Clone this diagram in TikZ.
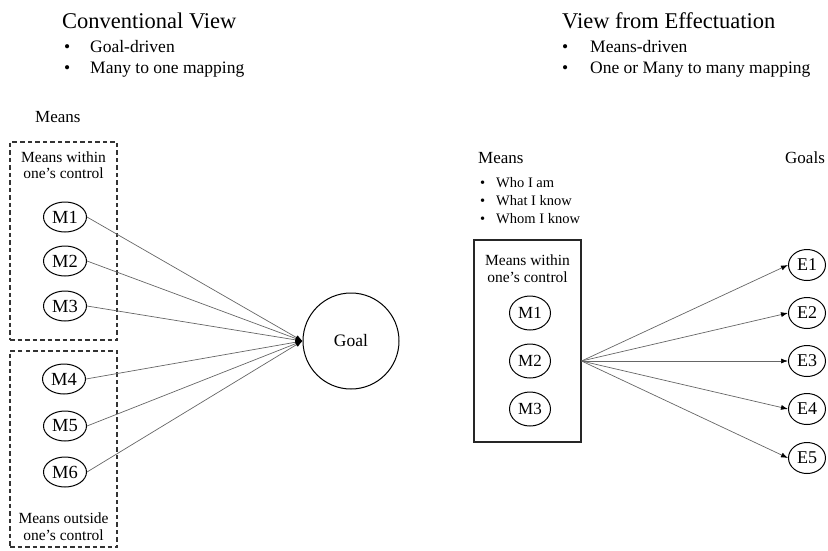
\documentclass[tikz,border=0pt]{standalone}
\usepackage{fontspec}
\setmainfont{Liberation Serif}[Ligatures=TeX]
\usetikzlibrary{shapes.geometric,arrows.meta,calc}

\newcommand{\fs}[1]{\fontsize{#1}{#1}\selectfont\rmfamily}

\begin{document}
\begin{tikzpicture}[x=1pt,y=-1pt,
  title/.style={anchor=base west,inner sep=0pt,font=\fs{22.5}},
  bulleted/.style={anchor=base west,inner sep=0pt,font=\fs{17.5}},
  heading/.style={anchor=base west,inner sep=0pt,font=\fs{17}},
  small/.style={anchor=base west,inner sep=0pt,font=\fs{14.5}},
  boxlabel/.style={anchor=base,inner sep=0pt,font=\fs{15.5}},
  dashbox/.style={draw=black!80,line width=1.2pt,dash pattern=on 4.5pt off 3pt},
  solidbox/.style={draw=black!85,line width=1.1pt},
  meanL/.style={draw,ellipse,line width=1pt,minimum width=43pt,minimum height=30pt,inner sep=0pt,font=\fs{18.5}},
  meanR/.style={draw,ellipse,line width=1pt,minimum width=41pt,minimum height=34pt,inner sep=0pt,font=\fs{17}},
  effect/.style={draw,ellipse,line width=1pt,minimum width=37pt,minimum height=31pt,inner sep=0pt,font=\fs{18}},
  goalnode/.style={draw,circle,line width=1pt,minimum size=96pt,inner sep=0pt,font=\fs{17.5}},
  link/.style={draw=black!60,line width=0.7pt,-{Latex[length=7pt,width=5pt,color=black]}}
]
\useasboundingbox (0,0) rectangle (828,550);

% ---------- Conventional view ----------
\node[title] (ctitle) at (62,28) {Conventional View};
\node[bulleted] (cb1) at (64,52) {\textbullet};
\node[bulleted] (ct1) at (90,52) {Goal-driven};
\node[bulleted] (cb2) at (64,73) {\textbullet};
\node[bulleted] (ct2) at (90,73) {Many to one mapping};
\node[heading] (cmeans) at (35,122) {Means};

\node[dashbox,minimum width=107pt,minimum height=198pt,inner sep=0pt] (inbox) at (63.5,241) {};
\node[dashbox,minimum width=107pt,minimum height=196pt,inner sep=0pt] (outbox) at (63.5,449) {};
\node[boxlabel] (inl1) at (63.5,162) {Means within};
\node[boxlabel] (inl2) at (63.5,178) {one’s control};
\node[boxlabel] (outl1) at (63.5,523) {Means outside};
\node[boxlabel] (outl2) at (63.5,540) {one’s control};

\node[meanL] (m1) at (65,217) {M1};
\node[meanL] (m2) at (65,261) {M2};
\node[meanL] (m3) at (65,306) {M3};
\node[meanL] (m4) at (64,379) {M4};
\node[meanL] (m5) at (65,426) {M5};
\node[meanL] (m6) at (65,472) {M6};

\node[goalnode] (goal) at (351,341) {Goal};

\foreach \m in {m1,m2,m3,m4,m5,m6}
  \draw[link] (\m.east) -- (goal.west);

% ---------- Effectuation view ----------
\node[title] (etitle) at (562,28) {View from Effectuation};
\node[bulleted] (eb1) at (562,52) {\textbullet};
\node[bulleted] (et1) at (590,52) {Means-driven};
\node[bulleted] (eb2) at (562,73) {\textbullet};
\node[bulleted] (et2) at (590,73) {One or Many to many mapping};

\node[heading] (emeans) at (478,163) {Means};
\node[heading] (egoals) at (785,163) {Goals};
\node[small] (es1b) at (480,187) {\textbullet};
\node[small] (es1) at (496,187) {Who I am};
\node[small] (es2b) at (480,205) {\textbullet};
\node[small] (es2) at (496,205) {What I know};
\node[small] (es3b) at (480,223) {\textbullet};
\node[small] (es3) at (496,223) {Whom I know};

\node[solidbox,minimum width=107pt,minimum height=202pt,inner sep=0pt] (ebox) at (527.5,341) {};
\node[boxlabel] (ebl1) at (527.5,265) {Means within};
\node[boxlabel] (ebl2) at (527.5,282) {one’s control};

\node[meanR] (r1) at (530,313) {M1};
\node[meanR] (r2) at (530,361) {M2};
\node[meanR] (r3) at (530,409) {M3};

\coordinate (src) at (ebox.east |- r2);

\node[effect] (e1) at (807,265) {E1};
\node[effect] (e2) at (807,313) {E2};
\node[effect] (e3) at (807,361) {E3};
\node[effect] (e4) at (807,409) {E4};
\node[effect] (e5) at (807,458) {E5};

\foreach \e in {e1,e2,e3,e4,e5}
  \draw[link] (src) -- (\e.west);
\end{tikzpicture}
\end{document}
